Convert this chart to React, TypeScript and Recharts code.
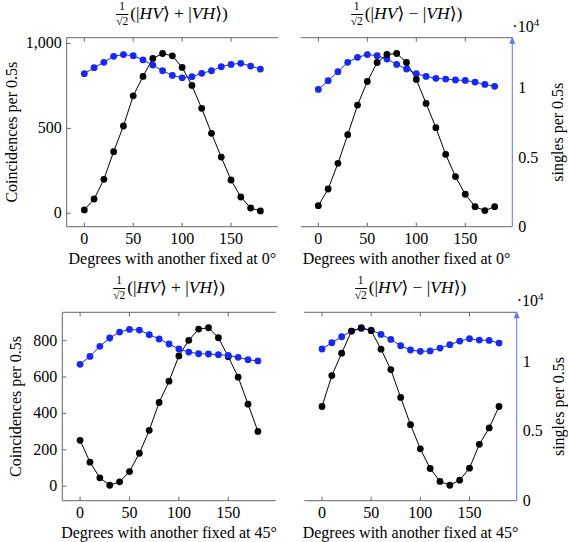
import React from 'react';
import { ComposedChart, Line, XAxis, YAxis, ReferenceLine } from 'recharts';

const degrees = [0, 10, 20, 30, 40, 50, 60, 70, 80, 90, 100, 110, 120, 130, 140, 150, 160, 170, 180];
const xTicks = [0, 50, 100, 150];

// Coincidences per 0.5s (black)
const coincHVplusVH_0 = [20, 84, 200, 363, 514, 692, 806, 912, 941, 927, 859, 753, 618, 471, 331, 196, 96, 31, 14];
const coincHVminusVH_0 = [45, 143, 294, 463, 637, 776, 888, 935, 941, 888, 788, 647, 504, 347, 216, 112, 39, 16, 39];
const coincHVplusVH_45 = [252, 132, 46, 5, 24, 80, 181, 307, 460, 577, 716, 802, 864, 871, 816, 712, 599, 451, 301];
const coincHVminusVH_45 = [438, 608, 731, 853, 871, 855, 753, 641, 488, 338, 205, 97, 26, 5, 33, 99, 230, 320, 438];

// Singles per 0.5s (blue)
const singlesHVplusVH_0 = [11070, 11500, 11890, 12320, 12450, 12370, 12060, 11690, 11280, 10940, 10770, 10850, 11090, 11280, 11570, 11740, 11820, 11620, 11400];
const singlesHVminusVH_0 = [9930, 10560, 11210, 11890, 12250, 12450, 12370, 12130, 11740, 11400, 11070, 10870, 10730, 10680, 10610, 10580, 10460, 10290, 10150];
const singlesHVplusVH_45 = [9810, 10380, 11100, 11700, 12130, 12320, 12270, 11940, 11630, 11270, 10910, 10690, 10570, 10550, 10500, 10450, 10310, 10140, 10050];
const singlesHVminusVH_45 = [10910, 11360, 11790, 12200, 12390, 12270, 11960, 11600, 11150, 10840, 10740, 10770, 10980, 11220, 11480, 11650, 11550, 11530, 11340];

const coincTicksTop = [0, 500, 1000];
const coincTicksBottom = [0, 200, 400, 600, 800];
const singlesTicks = [0, 5000, 10000];

const FONT = 'Liberation Serif, DejaVu Serif, serif';
const FS = 16;
const AXIS = '#666';
const BLUE = 'rgb(20,40,255)';
const LBLUE = 'rgb(90,120,255)';

type Box = { l: number; r: number; t: number; b: number };
type PanelProps = {
  left: number; top: number; W: number; H: number; box: Box;
  coinc: number[]; singles: number[];
  domL: [number, number]; ticksL: number[]; domR: [number, number];
  showLeft: boolean; xlabel: string; leftLabelX: number; rightLabelX: number;
};

function Panel(p: PanelProps) {
  const bl = p.box.l - p.left, br = p.box.r - p.left, bt = p.box.t - p.top, bb = p.box.b - p.top;
  const cy = (bt + bb) / 2;
  const data = degrees.map((d, i) => ({ deg: d, c: p.coinc[i], s: p.singles[i] }));
  const margin = { top: bt, bottom: 0, left: p.showLeft ? 0 : bl, right: p.showLeft ? p.W - br : 0 };

  const xTick = (tp: any) => {
    const x = tp.x;
    return (
      <g>
        <line x1={x} x2={x} y1={bb} y2={bb - 4} stroke={AXIS} />
        <line x1={x} x2={x} y1={bt} y2={bt + 4} stroke={AXIS} />
        <text x={x} y={bb + 17} textAnchor="middle" fontFamily={FONT} fontSize={FS} fill="#000">{tp.payload.value}</text>
        {tp.index === 0 ? (
          <text x={(bl + br) / 2} y={bb + 37.5} textAnchor="middle" fontFamily={FONT} fontSize={FS} fill="#000">{p.xlabel}</text>
        ) : null}
      </g>
    );
  };
  const yTick = (tp: any) => {
    const y = tp.y;
    const v = tp.payload.value;
    return (
      <g>
        <line x1={bl} x2={bl + 4} y1={y} y2={y} stroke={AXIS} />
        <text x={bl - 5} y={y + 5} textAnchor="end" fontFamily={FONT} fontSize={FS} fill="#000">{v >= 1000 ? v.toLocaleString('en-US') : v}</text>
        {tp.index === 0 ? (
          <text x={p.leftLabelX} y={cy} transform={`rotate(-90 ${p.leftLabelX} ${cy})`} textAnchor="middle" dominantBaseline="central" fontFamily={FONT} fontSize={FS} fill="#000">Coincidences per 0.5s</text>
        ) : null}
      </g>
    );
  };
  const rTick = (tp: any) => {
    const y = tp.y;
    const v = tp.payload.value;
    const rx = p.rightLabelX - p.left;
    return (
      <g>
        <text x={br + 6} y={y + 5} textAnchor="start" fontFamily={FONT} fontSize={FS} fill="#000">{v / 10000}</text>
        {tp.index === 0 ? (
          <g>
            <polygon points={`${br},${bt - 1} ${br - 3},${bt + 6} ${br + 3},${bt + 6}`} fill={LBLUE} />
            <text x={br} y={bt - 6} fontFamily={FONT} fontSize={FS} fill="#000">·10<tspan dy={-6} fontSize={11}>4</tspan></text>
            <text x={rx} y={cy} transform={`rotate(-90 ${rx} ${cy})`} textAnchor="middle" dominantBaseline="central" fontFamily={FONT} fontSize={FS} fill="#000">singles per 0.5s</text>
          </g>
        ) : null}
      </g>
    );
  };

  const black = (
    <Line key="c" yAxisId="L" dataKey="c" stroke="#000" strokeWidth={1} dot={{ r: 3.4, fill: '#000', stroke: 'none' }} isAnimationActive={false} />
  );
  const blue = (
    <Line key="s" yAxisId="R" dataKey="s" stroke={BLUE} strokeWidth={1} dot={{ r: 3.4, fill: BLUE, stroke: 'none' }} isAnimationActive={false} />
  );

  return (
    <div style={{ position: 'absolute', left: p.left, top: p.top }}>
      <ComposedChart width={p.W} height={p.H} data={data} margin={margin}>
        <XAxis dataKey="deg" type="number" domain={[-18, 198]} ticks={xTicks} allowDataOverflow tick={xTick} tickLine={false} axisLine={{ stroke: AXIS }} height={p.H - bb} interval={0} />
        <YAxis yAxisId="L" orientation="left" type="number" domain={p.domL} ticks={p.ticksL} allowDataOverflow hide={!p.showLeft} width={bl} tick={yTick} tickLine={false} axisLine={{ stroke: AXIS }} interval={0} />
        <YAxis yAxisId="R" orientation="right" type="number" domain={p.domR} ticks={singlesTicks} allowDataOverflow hide={p.showLeft} width={p.W - br} tick={rTick} tickLine={false} axisLine={{ stroke: LBLUE }} interval={0} />
        <ReferenceLine yAxisId="L" y={p.domL[1]} stroke={AXIS} />
        {p.showLeft ? [black, blue] : [blue, black]}
      </ComposedChart>
    </div>
  );
}

function Title({ cx, cy, minus }: { cx: number; cy: number; minus: boolean }) {
  return (
    <div style={{ position: 'absolute', left: cx, top: cy, transform: 'translate(-50%,-50%)', display: 'flex', alignItems: 'center', fontFamily: FONT, fontSize: 17.5, whiteSpace: 'nowrap', color: '#000', lineHeight: 1 }}>
      <span style={{ display: 'inline-flex', flexDirection: 'column', alignItems: 'center', fontSize: 11.5, marginRight: 2 }}>
        <span style={{ paddingBottom: 1 }}>1</span>
        <span style={{ borderTop: '0.8px solid #000', paddingTop: 1 }}>√<span style={{ textDecoration: 'overline' }}>2</span></span>
      </span>
      <span>(|<i>HV</i>⟩ {minus ? '−' : '+'} |<i>VH</i>⟩)</span>
    </div>
  );
}

export default function App() {
  return (
    <div style={{ position: 'absolute', left: 0, top: 0, width: 568, height: 542, background: '#fff', overflow: 'hidden' }}>
      <Panel left={0} top={0} W={290} H={270} box={{ l: 66.7, r: 278, t: 37.7, b: 226.7 }}
        coinc={coincHVplusVH_0} singles={singlesHVplusVH_0} domL={[-79, 1034]} ticksL={coincTicksTop} domR={[0, 13670]}
        showLeft xlabel="Degrees with another fixed at 0°" leftLabelX={12} rightLabelX={0} />
      <Panel left={280} top={0} W={288} H={270} box={{ l: 300.7, r: 512.3, t: 37.7, b: 226.7 }}
        coinc={coincHVminusVH_0} singles={singlesHVminusVH_0} domL={[-79, 1034]} ticksL={coincTicksTop} domR={[0, 13670]}
        showLeft={false} xlabel="Degrees with another fixed at 0°" leftLabelX={0} rightLabelX={558} />
      <Panel left={0} top={270} W={290} H={272} box={{ l: 62.3, r: 275.7, t: 312.3, b: 500.7 }}
        coinc={coincHVplusVH_45} singles={singlesHVplusVH_45} domL={[-80, 956]} ticksL={coincTicksBottom} domR={[0, 13550]}
        showLeft xlabel="Degrees with another fixed at 45°" leftLabelX={15} rightLabelX={0} />
      <Panel left={280} top={270} W={288} H={272} box={{ l: 304.3, r: 516.7, t: 312.3, b: 500.7 }}
        coinc={coincHVminusVH_45} singles={singlesHVminusVH_45} domL={[-80, 956]} ticksL={coincTicksBottom} domR={[0, 13550]}
        showLeft={false} xlabel="Degrees with another fixed at 45°" leftLabelX={0} rightLabelX={558} />
      <Title cx={172} cy={14} minus={false} />
      <Title cx={406.5} cy={14} minus />
      <Title cx={169} cy={288} minus={false} />
      <Title cx={410.5} cy={288} minus />
    </div>
  );
}
